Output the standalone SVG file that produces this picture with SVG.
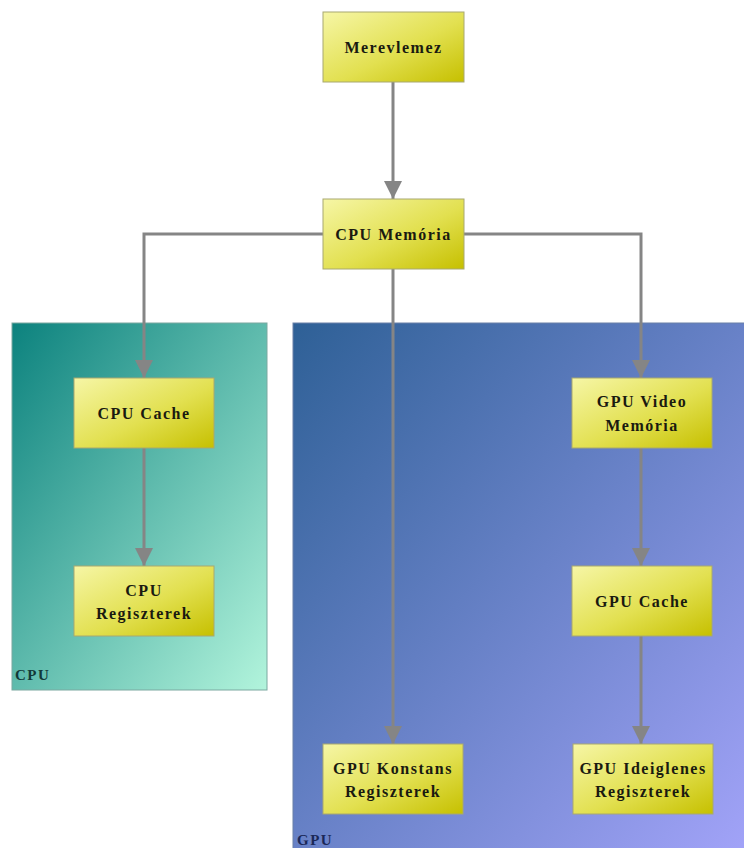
<svg xmlns="http://www.w3.org/2000/svg" width="744" height="848" viewBox="0 0 744 848">
<defs>
<linearGradient id="gNode" x1="0" y1="0" x2="1" y2="1">
<stop offset="0" stop-color="#f6f6a6"/>
<stop offset="0.55" stop-color="#e2e050"/>
<stop offset="1" stop-color="#c6c000"/>
</linearGradient>
<linearGradient id="gCpu" x1="0" y1="0" x2="1" y2="1">
<stop offset="0" stop-color="#0c827e"/>
<stop offset="1" stop-color="#b2f4dc"/>
</linearGradient>
<linearGradient id="gGpu" x1="0" y1="0" x2="1" y2="1">
<stop offset="0" stop-color="#2e6096"/>
<stop offset="1" stop-color="#a4a4fa"/>
</linearGradient>
<marker id="arr" viewBox="0 0 10 10" refX="10" refY="5" markerWidth="6" markerHeight="6.5" markerUnits="strokeWidth" orient="auto">
<path d="M0,0 L10,5 L0,10 z" fill="#858585"/>
</marker>
<style>
.node rect{fill:url(#gNode);stroke:#a8a870;stroke-width:1}
.node text{font-family:"Liberation Serif","Times New Roman",serif;font-weight:bold;font-size:16px;letter-spacing:1.5px;fill:#1a1a10;text-anchor:middle}
.cont text{font-family:"Liberation Serif","Times New Roman",serif;font-weight:bold;font-size:15px;letter-spacing:1.5px}
#connectors path{fill:none;stroke:#858585;stroke-width:3;marker-end:url(#arr)}
</style>
</defs>
<rect width="744" height="848" fill="#ffffff"/>
<g id="cpu-group" class="cont">
<rect x="12" y="323" width="255" height="367" fill="url(#gCpu)" stroke="#7aa8a0" stroke-width="1"/>
<text x="15" y="680" fill="#123838">CPU</text>
</g>
<g id="gpu-group" class="cont">
<rect x="293" y="323" width="460" height="540" fill="url(#gGpu)" stroke="#6a80a8" stroke-width="1"/>
<text x="297" y="845" fill="#1a2858">GPU</text>
</g>
<g id="connectors">
<path d="M393,82 L393,199"/>
<path d="M323,234 L144,234 L144,378"/>
<path d="M464,234 L641,234 L641,378"/>
<path d="M393,269 L393,744"/>
<path d="M144,448 L144,566"/>
<path d="M641,448 L641,566"/>
<path d="M641,636 L641,744"/>
</g>
<g id="merevlemez" class="node">
<rect x="323" y="12" width="141" height="70"/>
<text x="393.5" y="53">Merevlemez</text>
</g>
<g id="cpu-memoria" class="node">
<rect x="323" y="199" width="141" height="70"/>
<text x="393.5" y="240">CPU Memória</text>
</g>
<g id="cpu-cache" class="node">
<rect x="74" y="378" width="140" height="70"/>
<text x="144" y="419">CPU Cache</text>
</g>
<g id="cpu-regiszterek" class="node">
<rect x="74" y="566" width="140" height="70"/>
<text x="144" y="596">CPU</text>
<text x="144" y="619">Regiszterek</text>
</g>
<g id="gpu-video-memoria" class="node">
<rect x="572" y="378" width="140" height="70"/>
<text x="642" y="407">GPU Video</text>
<text x="642" y="431">Memória</text>
</g>
<g id="gpu-cache" class="node">
<rect x="572" y="566" width="140" height="70"/>
<text x="642" y="607">GPU Cache</text>
</g>
<g id="gpu-konstans" class="node">
<rect x="323" y="744" width="140" height="70"/>
<text x="393" y="774">GPU Konstans</text>
<text x="393" y="797">Regiszterek</text>
</g>
<g id="gpu-ideiglenes" class="node">
<rect x="573" y="744" width="140" height="70"/>
<text x="643" y="774">GPU Ideiglenes</text>
<text x="643" y="797">Regiszterek</text>
</g>
</svg>
